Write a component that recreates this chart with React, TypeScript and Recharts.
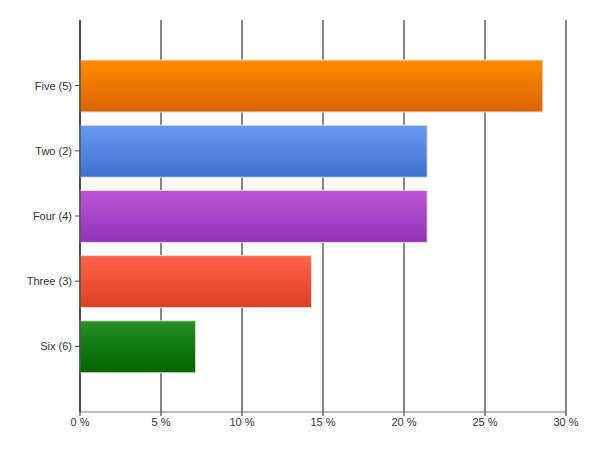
import React from 'react';
import { BarChart, Bar, Cell, XAxis, YAxis, CartesianGrid } from 'recharts';

const categories = ['Five (5)', 'Two (2)', 'Four (4)', 'Three (3)', 'Six (6)'];
const shares = [28.57, 21.43, 21.43, 14.29, 7.14];
const xTicks = [0, 5, 10, 15, 20, 25, 30];

const GRADIENTS = [
  ['#ff8c00', '#d96400'],
  ['#6a9bf0', '#3d6fcf'],
  ['#bb57d6', '#9231b8'],
  ['#ff644a', '#dc3f22'],
  ['#239024', '#006400'],
];

const data = categories.map((name, i) => ({ name, value: shares[i] }));

export default function App() {
  return (
    <div style={{ position: 'absolute', left: 0, top: 0, width: 600, height: 450, background: '#fff' }}>
      <BarChart
        width={600}
        height={450}
        data={data}
        layout="vertical"
        margin={{ top: 20, right: 34, left: 0, bottom: 18 }}
      >
        <defs>
          {GRADIENTS.map(([top, bottom], i) => (
            <linearGradient key={i} id={`bar${i}`} x1="0" y1="0" x2="0" y2="1">
              <stop offset="0%" stopColor={top} />
              <stop offset="100%" stopColor={bottom} />
            </linearGradient>
          ))}
        </defs>
        <CartesianGrid horizontal={false} stroke="#111" strokeWidth={1} />
        <XAxis
          type="number"
          domain={[0, 30]}
          ticks={xTicks}
          tickFormatter={(v: number) => `${v} %`}
          axisLine={{ stroke: '#777' }}
          tickLine={{ stroke: '#222' }}
          tickSize={4}
          tickMargin={2}
          height={20}
          tick={{ fontSize: 11, fill: '#333', fontFamily: 'Liberation Sans, Arial, sans-serif' }}
        />
        <YAxis
          type="category"
          dataKey="name"
          width={80}
          padding={{ top: 33, bottom: 33 }}
          axisLine={{ stroke: '#111' }}
          tickLine={{ stroke: '#444' }}
          tickSize={5}
          tickMargin={3}
          tick={{ fontSize: 11, fill: '#333', fontFamily: 'Liberation Sans, Arial, sans-serif' }}
        />
        <Bar dataKey="value" barSize={52} isAnimationActive={false}>
          {data.map((d, i) => (
            <Cell key={d.name} fill={`url(#bar${i})`} stroke="#e6dfd8" strokeWidth={1} />
          ))}
        </Bar>
      </BarChart>
    </div>
  );
}
